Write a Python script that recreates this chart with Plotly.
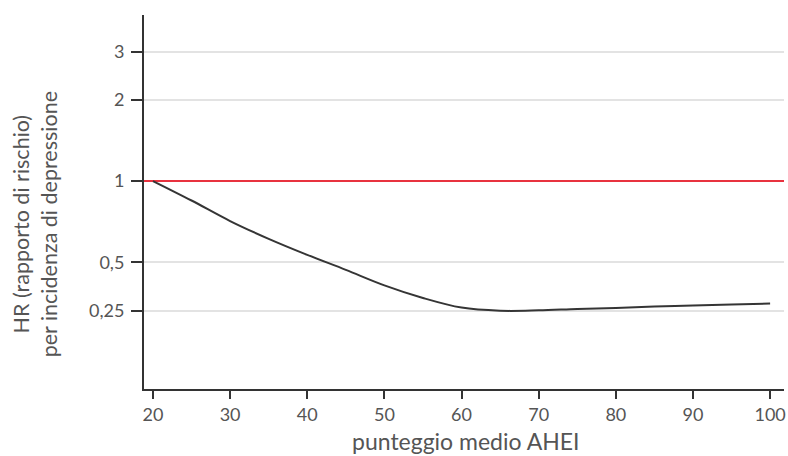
import plotly.graph_objects as go

# Data
ahei = [20, 25, 30, 35, 40, 45, 50, 55, 60, 65, 70, 75, 80, 85, 90, 95, 100]
hr = [1.0, 0.847, 0.711, 0.611, 0.533, 0.469, 0.411, 0.369, 0.340, 0.331,
      0.332, 0.336, 0.339, 0.343, 0.346, 0.349, 0.352]
ref_x = [18.84, 101.8]
ref_hr = [1.0, 1.0]
y_tickvals = [0.331, 0.5, 1, 2, 3]
y_ticktext = ["0,25", "0,5", "1", "2", "3"]
x_tickvals = [20, 30, 40, 50, 60, 70, 80, 90, 100]

font_family = "Lato, Open Sans, sans-serif"
text_color = "#555555"

W, H = 788, 456
L, R, T, B = 144, 2, 15, 67
plot_w = W - L - R
plot_h = H - T - B


def px_x(px):
    return (px - L) / plot_w


def px_y(py):
    return (H - B - py) / plot_h


fig = go.Figure()
fig.add_trace(go.Scatter(x=ref_x, y=ref_hr, mode="lines",
                         line=dict(color="#e8323f", width=2), hoverinfo="skip"))
fig.add_trace(go.Scatter(x=ahei, y=hr, mode="lines",
                         line=dict(color="#353535", width=2, shape="spline", smoothing=1.0)))

fig.update_layout(
    width=W, height=H,
    margin=dict(l=L, r=R, t=T, b=B),
    paper_bgcolor="white", plot_bgcolor="white",
    showlegend=False,
    font=dict(family=font_family, color=text_color, size=18),
    xaxis=dict(range=[18.84, 101.8], tickvals=x_tickvals,
               showline=True, linecolor="#333333", linewidth=2,
               ticks="outside", ticklen=8, tickwidth=2, tickcolor="#333333",
               showgrid=False, zeroline=False,
               tickfont=dict(size=18, color=text_color)),
    yaxis=dict(type="log", range=[-0.770, 0.6147],
               tickvals=y_tickvals, ticktext=y_ticktext,
               showline=True, linecolor="#333333", linewidth=2,
               ticks="outside", ticklen=11, tickwidth=2, tickcolor="#333333",
               ticklabelstandoff=3,
               showgrid=True, gridcolor="#e3e3e3", gridwidth=1.5,
               zeroline=False,
               tickfont=dict(size=18, color=text_color)),
    annotations=[
        dict(text="punteggio medio AHEI", x=px_x(467), y=px_y(441),
             xref="paper", yref="paper", xanchor="center", yanchor="middle",
             showarrow=False, font=dict(size=23, color=text_color)),
        dict(text="HR (rapporto di rischio)<br>per incidenza di depressione",
             x=px_x(35), y=px_y(224), xref="paper", yref="paper",
             xanchor="center", yanchor="middle", textangle=-90,
             showarrow=False, font=dict(size=21.5, color=text_color)),
    ],
)

fig.write_html("out.html", config={"displayModeBar": False},
               post_script="document.body.style.margin='0';")
